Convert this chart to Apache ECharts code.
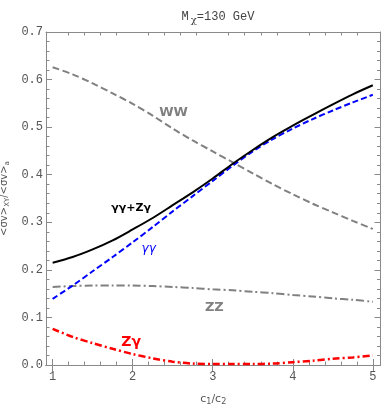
<!DOCTYPE html>
<html>
<head>
<meta charset="utf-8">
<script src="https://cdn.jsdelivr.net/npm/echarts@6/dist/echarts.min.js"></script>
<style>
  html, body { margin: 0; padding: 0; background: #fff; }
  #chart { width: 382px; height: 405px; }
</style>
</head>
<body>
<div id="chart"></div>
<script>
// c1/c2 sample points
const ratio = [1, 1.25, 1.5, 1.75, 2, 2.25, 2.5, 2.75, 3, 3.25, 3.5, 3.75, 4, 4.25, 4.5, 4.75, 5];
// <σv>_XY / <σv>_a
const ww    = [0.626, 0.611, 0.592, 0.571, 0.549, 0.524, 0.497, 0.472, 0.449, 0.426, 0.403, 0.380, 0.359, 0.339, 0.321, 0.303, 0.286];
const gaSum = [0.215, 0.227, 0.243, 0.262, 0.285, 0.309, 0.336, 0.363, 0.392, 0.423, 0.452, 0.479, 0.503, 0.526, 0.548, 0.569, 0.588];
const gaga  = [0.139, 0.167, 0.197, 0.227, 0.258, 0.290, 0.323, 0.355, 0.387, 0.419, 0.449, 0.475, 0.497, 0.517, 0.535, 0.552, 0.568];
const zz    = [0.164, 0.166, 0.167, 0.167, 0.167, 0.166, 0.164, 0.162, 0.159, 0.157, 0.154, 0.151, 0.147, 0.144, 0.140, 0.137, 0.133];
const zga   = [0.076, 0.059, 0.046, 0.034, 0.023, 0.014, 0.007, 0.003, 0.002, 0.002, 0.002, 0.003, 0.006, 0.009, 0.013, 0.016, 0.020];

const xTicks = [1, 2, 3, 4, 5];
const xMinorTicks = [1.2, 1.4, 1.6, 1.8, 2.2, 2.4, 2.6, 2.8, 3.2, 3.4, 3.6, 3.8, 4.2, 4.4, 4.6, 4.8];

const pairs = ys => ratio.map((x, i) => [x, ys[i]]);

const frameColor = '#8a8a8a';
const monoFont = '"Liberation Mono", "DejaVu Sans Mono", monospace';

function xAxisDef(pos, values, len, showLabel) {
  return {
    type: 'value', position: pos, min: 0.917, max: 5.096,
    axisLine: { show: true, lineStyle: { color: frameColor, width: 1 } },
    axisTick: { show: true, inside: true, length: len, customValues: values, lineStyle: { color: frameColor } },
    axisLabel: { show: showLabel, customValues: values, color: '#555', fontFamily: monoFont, fontSize: 12, margin: 6 },
    splitLine: { show: false }
  };
}

function yAxisDef(pos, showLabel) {
  return {
    type: 'value', position: pos, min: 0, max: 0.7, interval: 0.1,
    axisLine: { show: true, lineStyle: { color: frameColor, width: 1 } },
    axisTick: { show: true, inside: true, length: 6, lineStyle: { color: frameColor } },
    minorTick: { show: true, splitNumber: 5, length: 3.5, lineStyle: { color: frameColor } },
    axisLabel: { show: showLabel, color: '#555', fontFamily: monoFont, fontSize: 12, margin: 3,
      formatter: v => v.toFixed(1) },
    splitLine: { show: false }
  };
}

const chart = echarts.init(document.getElementById('chart'));

const line = (name, ys, color, dash, width) => ({
  name, type: 'line', data: pairs(ys), smooth: 0.3, symbol: 'none',
  xAxisIndex: 0, yAxisIndex: 0,
  lineStyle: { color, type: dash, width }
});

const xs = [
  xAxisDef('bottom', xTicks, 6, true),
  xAxisDef('top', xTicks, 6, false),
  xAxisDef('bottom', xMinorTicks, 3.5, false),
  xAxisDef('top', xMinorTicks, 3.5, false)
];
xs[0].name = '{n|c}{s|1}{n|/c}{s|2}';
xs[0].nameLocation = 'middle';
xs[0].nameGap = 27;
xs[0].nameTextStyle = {
  rich: {
    n: { fontFamily: 'DejaVu Sans', fontSize: 11, color: '#555' },
    s: { fontFamily: 'DejaVu Sans', fontSize: 8, color: '#555', verticalAlign: 'bottom', padding: [6, 0, 0, 0] }
  }
};

const ys = [yAxisDef('left', true), yAxisDef('right', false)];
ys[0].name = '{n|<σv>}{s|XY}{n|/<σv>}{s|a}';
ys[0].nameLocation = 'middle';
ys[0].nameGap = 33;
ys[0].nameTextStyle = {
  rich: {
    n: { fontFamily: 'DejaVu Sans', fontSize: 10, color: '#555' },
    s: { fontFamily: 'DejaVu Sans', fontSize: 7, color: '#555', padding: [5, 0, 0, 0] }
  }
};

const option = {
  animation: false,
  backgroundColor: '#fff',
  title: {
    text: 'M{s|χ}=130 GeV',
    left: 213, top: 4, textAlign: 'center',
    textStyle: {
      fontFamily: monoFont, fontSize: 12, fontWeight: 'normal', color: '#444',
      rich: { s: { fontFamily: 'DejaVu Serif', fontSize: 10, color: '#444', padding: [6, 0, 0, 2] } }
    }
  },
  grid: { left: 46, right: 1.5, top: 32, bottom: 40, outerBoundsMode: 'none', containLabel: false },
  xAxis: xs,
  yAxis: ys,
  series: [
    line('WW', ww, '#808080', [7, 3.5], 2),
    line('ZZ', zz, '#808080', [8, 3, 2, 3], 2),
    line('γγ', gaga, '#0000ff', [6, 3], 2),
    line('Zγ', zga, '#ff0000', [7, 3, 2, 3], 2.5),
    line('γγ+Zγ', gaSum, '#000000', 'solid', 2)
  ]
};
chart.setOption(option);

// curve labels, anchored in data coordinates
const notes = [
  { text: 'WW', at: [2.51, 0.530], color: '#808080', size: 13, weight: 'bold', style: 'normal' },
  { text: 'γγ+Zγ', at: [1.98, 0.329], color: '#000', size: 11, weight: 'bold', style: 'normal' },
  { text: 'γγ', at: [2.20, 0.245], color: '#0000ff', size: 12, weight: 'normal', style: 'italic' },
  { text: 'ZZ', at: [3.02, 0.120], color: '#808080', size: 13, weight: 'bold', style: 'normal' },
  { text: 'Zγ', at: [1.98, 0.048], color: '#ff0000', size: 14, weight: 'bold', style: 'normal' }
];
chart.setOption({
  graphic: notes.map(n => {
    const p = chart.convertToPixel({ xAxisIndex: 0, yAxisIndex: 0 }, n.at);
    return {
      type: 'text', x: p[0], y: p[1],
      style: { text: n.text, fill: n.color, align: 'center', verticalAlign: 'middle',
        font: n.style + ' ' + n.weight + ' ' + n.size + 'px "DejaVu Sans", sans-serif' }
    };
  })
});
</script>
</body>
</html>
